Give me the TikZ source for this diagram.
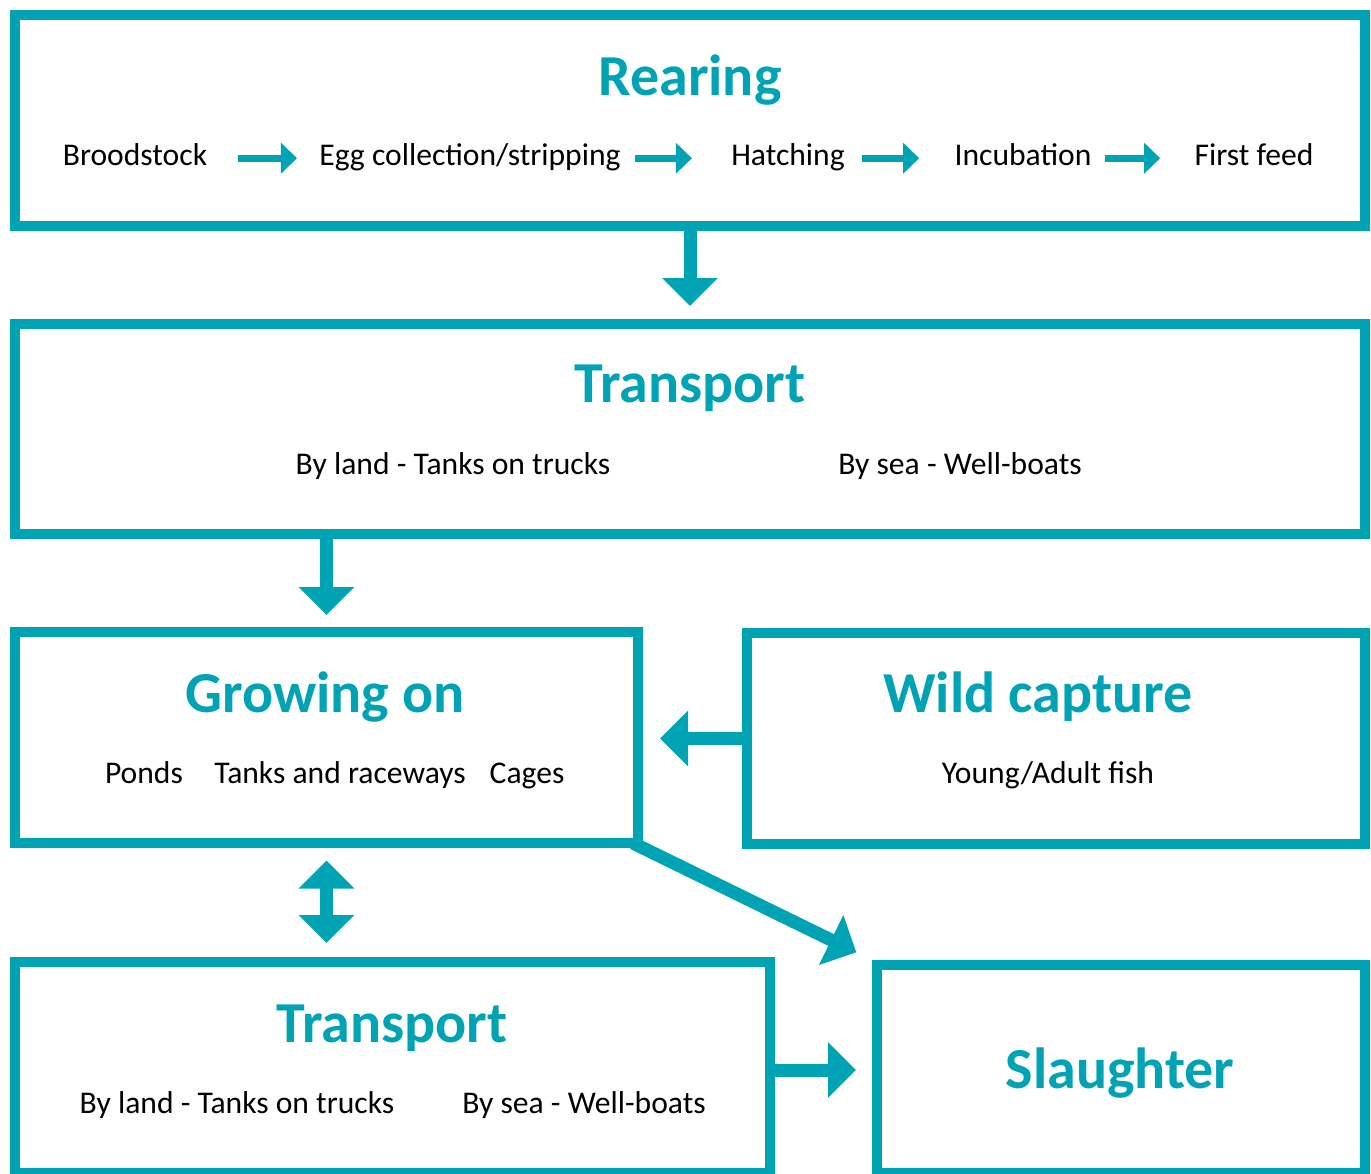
\documentclass[tikz,border=0pt]{standalone}
\usepackage{fontspec}
\setmainfont{Carlito}
\usetikzlibrary{arrows.meta}
\definecolor{fishteal}{HTML}{00A3B4}

\begin{document}
\begin{tikzpicture}[x=0.5pt,y=-0.5pt,
  stage/.style={rectangle,draw=fishteal,line width=5pt,inner sep=0pt},
  stagetitle/.style={anchor=base,inner sep=0pt,text=fishteal,font=\fontsize{29}{34}\selectfont\bfseries},
  subtext/.style={anchor=base,inner sep=0pt,font=\fontsize{15.8}{19}\selectfont},
  bigarrow/.style={draw=fishteal,line width=6.5pt,-{Triangle[width=27pt,length=14pt]}},
  smallarrow/.style={draw=fishteal,line width=3.5pt,-{Triangle[width=15pt,length=8pt]}}]
\useasboundingbox (0,0) rectangle (1371,1173);

\node[stage,minimum width=675pt,minimum height=105.5pt] (rearing) at (690,120.5) {};
\node[stage,minimum width=675pt,minimum height=105pt] (transA) at (690,429) {};
\node[stage,minimum width=311.5pt,minimum height=105.5pt] (growing) at (326.5,737.5) {};
\node[stage,minimum width=309pt,minimum height=105.5pt] (wild) at (1056,738.5) {};
\node[stage,minimum width=377.5pt,minimum height=105.5pt] (transB) at (392.5,1067.5) {};
\node[stage,minimum width=244pt,minimum height=104pt] (slaughter) at (1121,1069) {};

\node[stagetitle] (rearingtitle) at (690,95.5) {Rearing};
\node[subtext] (brood) at (135,165) {Broodstock};
\node[subtext] (egg) at (470,165) {Egg collection/stripping};
\node[subtext] (hatch) at (788,165) {Hatching};
\node[subtext] (incub) at (1023,165) {Incubation};
\node[subtext] (first) at (1254,165) {First feed};

\node[stagetitle] (transAtitle) at (690,402) {Transport};
\node[subtext] (transAland) at (453,474) {By land - Tanks on trucks};
\node[subtext] (transAsea) at (960,474) {By sea - Well-boats};

\node[stagetitle] (growingtitle) at (325,712.5) {Growing on};
\node[subtext] (ponds) at (144,783) {Ponds};
\node[subtext] (tanks) at (340,783) {Tanks and raceways};
\node[subtext] (cages) at (527,783) {Cages};

\node[stagetitle] (wildtitle) at (1038,712.5) {Wild capture};
\node[subtext] (young) at (1048,783) {Young/Adult fish};

\node[stagetitle] (transBtitle) at (392,1042.5) {Transport};
\node[subtext] (transBland) at (237,1113) {By land - Tanks on trucks};
\node[subtext] (transBsea) at (584,1113) {By sea - Well-boats};

\node[stagetitle] (slaughtertitle) at (1120,1088.5) {Slaughter};

\draw[smallarrow,shorten <=15pt,shorten >=11pt] ([yshift=1pt]brood.mid east) -- ([yshift=1pt]egg.mid west);
\draw[smallarrow,shorten <=7pt,shorten >=19.5pt] ([yshift=1pt]egg.mid east) -- ([yshift=1pt]hatch.mid west);
\draw[smallarrow,shorten <=8.5pt,shorten >=17.5pt] ([yshift=1pt]hatch.mid east) -- ([yshift=1pt]incub.mid west);
\draw[smallarrow,shorten <=6.5pt,shorten >=17pt] ([yshift=1pt]incub.mid east) -- ([yshift=1pt]first.mid west);

\draw[bigarrow,shorten >=6.5pt] (rearing.south) -- (transA.north);
\draw[bigarrow,shorten >=6pt] (growing.north |- transA.south) -- (growing.north);
\draw[bigarrow,shorten >=8.5pt] (wild.west) -- (wild.west -| growing.east);
\draw[bigarrow,{Triangle[width=27pt,length=14pt]}-{Triangle[width=27pt,length=14pt]},shorten <=6.25pt,shorten >=7pt] (growing.south) -- (growing.south |- transB.north);
\draw[bigarrow,shorten >=8pt] ([yshift=-1.25pt]transB.east) -- ([yshift=-1.25pt]transB.east -| slaughter.west);
\draw[bigarrow,shorten <=-5.5pt,shorten >=8.75pt] (growing.south east) -- (slaughter.north west);
\end{tikzpicture}
\end{document}
